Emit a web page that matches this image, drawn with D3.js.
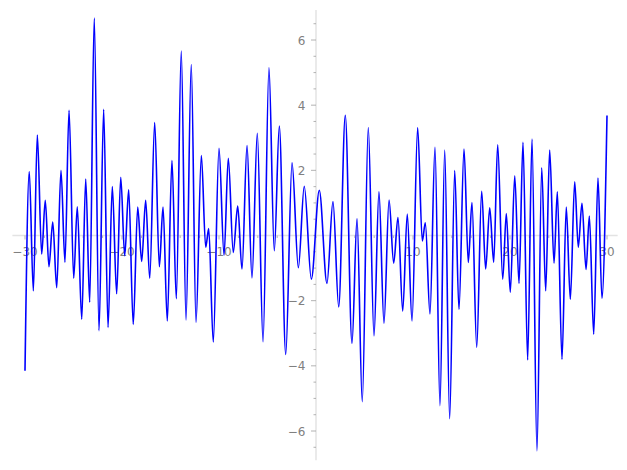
<!DOCTYPE html>
<html>
<head>
<meta charset="utf-8">
<script src="https://cdn.jsdelivr.net/npm/d3@7"></script>
<style>
  html, body { margin: 0; padding: 0; background: #ffffff; }
  svg { display: block; }
</style>
</head>
<body>
<svg id="chart" width="627" height="470"></svg>
<script>
// Local extrema of the curve
const xValues = [
  -30.00, -29.56, -29.14, -28.73, -28.28, -27.91, -27.53, -27.14, -26.73, -26.29,
  -25.88, -25.46, -24.98, -24.61, -24.15, -23.74, -23.33, -22.86, -22.37, -21.89,
  -21.44, -21.00, -20.55, -20.13, -19.72, -19.31, -18.84, -18.38, -17.97, -17.56,
  -17.14, -16.63, -16.15, -15.77, -15.33, -14.85, -14.40, -13.89, -13.40, -12.86,
  -12.37, -11.82, -11.37, -11.06, -10.59, -10.00, -9.48, -9.04, -8.53, -8.07,
  -7.63, -7.11, -6.60, -6.05, -5.46, -4.85, -4.30, -3.78, -3.12, -2.47,
  -1.82, -1.21, -0.48, 0.34, 1.13, 1.75, 2.34, 3.02, 3.71, 4.23,
  4.77, 5.39, 5.98, 6.49, 7.01, 7.53, 8.01, 8.45, 8.94, 9.41,
  9.90, 10.48, 10.96, 11.27, 11.75, 12.27, 12.78, 13.27, 13.78, 14.30,
  14.74, 15.26, 15.70, 16.08, 16.57, 17.08, 17.49, 17.91, 18.32, 18.73,
  19.25, 19.62, 20.03, 20.49, 20.93, 21.34, 21.82, 22.27, 22.78, 23.27,
  23.68, 24.09, 24.54, 24.88, 25.36, 25.80, 26.22, 26.67, 27.04, 27.42,
  27.84, 28.18, 28.63, 29.07, 29.48, 30.00
];
const yValues = [
  -4.15, 1.96, -1.70, 3.08, -0.57, 1.08, -0.96, 0.41, -1.60, 2.00,
  -0.82, 3.84, -1.31, 0.88, -2.57, 1.73, -2.05, 6.67, -2.92, 3.87,
  -2.82, 1.50, -1.79, 1.79, -0.62, 1.40, -2.73, 0.87, -0.80, 1.08,
  -1.31, 3.47, -0.96, 0.87, -2.62, 2.30, -1.94, 5.66, -2.59, 5.25,
  -2.66, 2.45, -0.36, 0.21, -3.27, 2.68, -0.60, 2.37, -0.52, 0.90,
  -1.03, 2.76, -1.30, 3.14, -3.26, 5.15, -0.47, 3.36, -3.65, 2.23,
  -0.99, 1.51, -1.34, 1.39, -1.47, 1.04, -2.19, 3.69, -3.31, 0.51,
  -5.10, 3.31, -3.08, 1.34, -2.69, 1.09, -0.85, 0.55, -2.32, 0.66,
  -2.62, 3.31, -0.17, 0.39, -2.41, 2.71, -5.22, 2.62, -5.62, 1.99,
  -2.27, 2.65, -0.83, 1.01, -3.43, 1.36, -1.03, 0.85, -0.82, 2.78,
  -1.34, 0.67, -1.74, 1.83, -1.47, 2.86, -3.82, 2.96, -6.61, 2.08,
  -1.70, 2.62, -0.85, 1.34, -3.80, 0.87, -1.96, 1.65, -0.36, 0.99,
  -1.04, 0.60, -3.03, 1.76, -1.93, 3.68
];
const xTickValues = [-30, -20, -10, 10, 20, 30];
const xTickLabels = ["\u221230", "\u221220", "\u221210", "10", "20", "30"];
const yTickValues = [-6, -4, -2, 2, 4, 6];
const yTickLabels = ["\u22126", "\u22124", "\u22122", "2", "4", "6"];
const xMinorTicks = d3.range(-30, 30.001, 2);
const yMinorTicks = d3.range(-6.5, 6.501, 0.5);

const svg = d3.select("#chart");
const x = d3.scaleLinear().domain([-30, 30]).range([25, 607]);
const y = d3.scaleLinear().domain([-6, 6]).range([431, 40]);

const axisColor = "#e3e3e3";
const tickColor = "#a0a0a0";
const labelColor = "#808080";
const font = "DejaVu Sans, sans-serif";

// x axis line
svg.append("line")
  .attr("x1", x(-31.3)).attr("x2", x(31.1))
  .attr("y1", y(0)).attr("y2", y(0))
  .attr("stroke", axisColor).attr("stroke-width", 1.5);
// y axis line
svg.append("line")
  .attr("x1", x(0)).attr("x2", x(0))
  .attr("y1", y(6.92)).attr("y2", y(-6.9))
  .attr("stroke", axisColor).attr("stroke-width", 1.5);

// x ticks
svg.append("g").selectAll("line").data(xMinorTicks).join("line")
  .attr("x1", d => x(d)).attr("x2", d => x(d))
  .attr("y1", y(0)).attr("y2", d => y(0) + (xTickValues.includes(d) ? 4 : 2.5))
  .attr("stroke", tickColor).attr("stroke-width", 0.8);
// y ticks
svg.append("g").selectAll("line").data(yMinorTicks).join("line")
  .attr("y1", d => y(d)).attr("y2", d => y(d))
  .attr("x1", x(0)).attr("x2", d => x(0) - (yTickValues.includes(d) ? 5 : 2.5))
  .attr("stroke", tickColor).attr("stroke-width", 0.8);

// x tick labels
svg.append("g").selectAll("text").data(xTickValues).join("text")
  .attr("x", d => x(d)).attr("y", y(0) + 20.5)
  .attr("text-anchor", "middle")
  .attr("font-family", font).attr("font-size", 12)
  .attr("fill", labelColor)
  .text((d, i) => xTickLabels[i]);
// y tick labels
svg.append("g").selectAll("text").data(yTickValues).join("text")
  .attr("x", x(0) - 10.5).attr("y", d => y(d) + 4.5)
  .attr("text-anchor", "end")
  .attr("font-family", font).attr("font-size", 12)
  .attr("fill", labelColor)
  .text((d, i) => yTickLabels[i]);

// curve
const points = xValues.map((v, i) => [v, yValues[i]]);
const line = d3.line()
  .x(d => x(d[0])).y(d => y(d[1]))
  .curve(d3.curveMonotoneX);
svg.append("path")
  .datum(points)
  .attr("d", line)
  .attr("fill", "none")
  .attr("stroke", "#0000ff")
  .attr("stroke-width", 1.6)
  .attr("stroke-linejoin", "round");
</script>
</body>
</html>
